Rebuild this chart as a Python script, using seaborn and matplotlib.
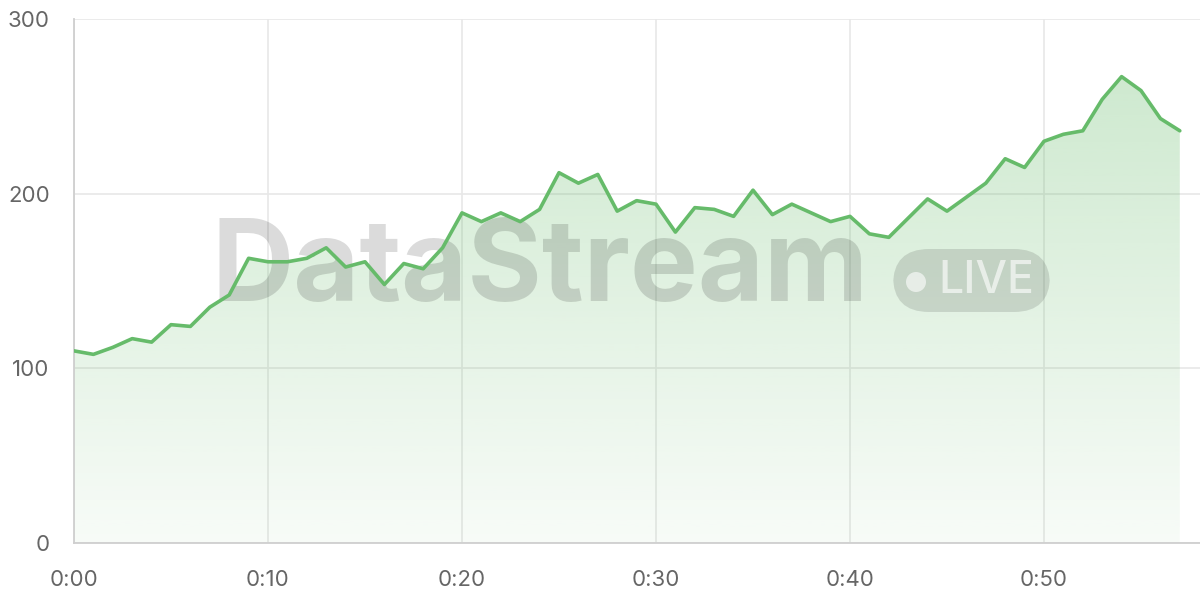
import numpy as np
import pandas as pd
import matplotlib
matplotlib.use("Agg")
import matplotlib.pyplot as plt
import seaborn as sns
from matplotlib.patches import FancyBboxPatch, Ellipse

# ---- data ----
minutes = list(range(58))
values = [110, 108, 112, 117, 115, 125, 124, 135, 142, 163,
          161, 161, 163, 169, 158, 161, 148, 160, 157, 169,
          189, 184, 189, 184, 191, 212, 206, 211, 190, 196,
          194, 178, 192, 191, 187, 202, 188, 194, 189, 184,
          187, 177, 175, 186, 197, 190, 198, 206, 220, 215,
          230, 234, 236, 254, 267, 259, 243, 236]
x_ticks = [0, 10, 20, 30, 40, 50]
x_tick_labels = ["0:00", "0:10", "0:20", "0:30", "0:40", "0:50"]
y_ticks = [0, 100, 200, 300]
watermark = "DataStream"
badge = "LIVE"

df = pd.DataFrame({"minute": minutes, "value": values})

sns.set_theme(style="white")
plt.rcParams["font.family"] = ["Inter", "DejaVu Sans"]

LINE = "#66bb6a"
GRID = "#e8e8e8"
SPINE = "#cfcfcf"
TXT = "#666666"

fig = plt.figure(figsize=(12, 6), dpi=100)
ax = fig.add_axes([74 / 1200, 57 / 600, (1200 - 74) / 1200, 524 / 600])
XMAX = (1200 - 74) / 19.4

# watermark (inside axes, under the line)
ax.text(540 / 1200, 1 - 271 / 600, watermark, transform=fig.transFigure,
        ha="center", va="center", fontsize=82, fontweight="bold",
        color="black", alpha=0.14, zorder=2, clip_on=False)
bb = FancyBboxPatch((893 / 1200, 1 - 312 / 600), (1050 - 893) / 1200, (312 - 249) / 600,
                    boxstyle="round,pad=0,rounding_size=0.03", transform=fig.transFigure,
                    facecolor="black", alpha=0.12, edgecolor="none", zorder=2,
                    mutation_aspect=2.0, clip_on=False)
ax.add_patch(bb)
ax.add_patch(Ellipse((916 / 1200, 1 - 282 / 600), 20 / 1200, 20 / 600,
                     transform=fig.transFigure, facecolor="white", alpha=0.6,
                     edgecolor="none", zorder=2.1, clip_on=False))
ax.text(938 / 1200, 1 - 281 / 600, badge, transform=fig.transFigure, ha="left",
        va="center", fontsize=32, fontweight="medium", color="white", alpha=0.62,
        zorder=2.1, clip_on=False)

# gradient fill
x = np.array(minutes, dtype=float)
y = np.array(values, dtype=float)
poly = ax.fill_between(x, 0, y, color="none", zorder=1)
ymax = y.max()
grad = np.linspace(0.05, 0.32, 256).reshape(-1, 1)
rgba = np.zeros((256, 1, 4))
rgba[..., 0] = 0x66 / 255
rgba[..., 1] = 0xbb / 255
rgba[..., 2] = 0x6a / 255
rgba[..., 3] = grad
im = ax.imshow(rgba, extent=[x.min(), x.max(), 0, ymax], origin="lower",
               aspect="auto", zorder=1)
im.set_clip_path(poly.get_paths()[0], transform=ax.transData)

sns.lineplot(data=df, x="minute", y="value", ax=ax, color=LINE, linewidth=2.6, zorder=3)

ax.set_xlim(0, XMAX)
ax.set_ylim(0, 300)

# axes styling
ax.set_xticks(x_ticks)
ax.set_xticklabels(x_tick_labels)
ax.set_yticks(y_ticks)
ax.set_yticklabels([str(v) for v in y_ticks])
ax.grid(True, color=GRID, linewidth=1.2, zorder=0)
ax.set_axisbelow(True)
ax.tick_params(axis="both", length=11.5, width=1.2, color=GRID, labelsize=16,
               labelcolor=TXT, pad=6)
ax.tick_params(axis="x", pad=8)
for s in ["top", "right"]:
    ax.spines[s].set_visible(False)
for s in ["left", "bottom"]:
    ax.spines[s].set_color(SPINE)
    ax.spines[s].set_linewidth(1.3)
ax.set_xlabel("")
ax.set_ylabel("")
ax.patch.set_alpha(0)

fig.savefig("out.png", dpi=100)
